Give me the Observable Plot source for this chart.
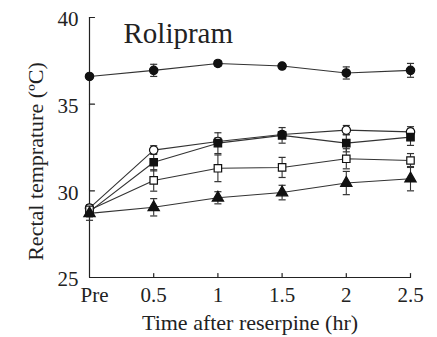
<!DOCTYPE html>
<html>
<head>
<meta charset="utf-8">
<script src="https://cdn.jsdelivr.net/npm/d3@7"></script>
<script src="https://cdn.jsdelivr.net/npm/@observablehq/plot@0.6"></script>
<style>
  html, body { margin: 0; padding: 0; background: #fff; }
</style>
</head>
<body>
<div id="chart"></div>
<script>
const times = [0, 0.5, 1, 1.5, 2, 2.5];
const xTickLabels = ["Pre", "0.5", "1", "1.5", "2", "2.5"];
const yTicks = [25, 30, 35, 40];

const filledCircle = [36.6, 36.95, 37.35, 37.2, 36.8, 36.95];
const filledCircleErr = [0.15, 0.35, 0.15, 0.1, 0.35, 0.4];
const openCircle = [29.0, 32.35, 32.85, 33.25, 33.5, 33.4];
const openCircleErr = [0.2, 0.25, 0.2, 0.15, 0.27, 0.3];
const filledSquare = [28.8, 31.65, 32.75, 33.2, 32.75, 33.1];
const filledSquareErr = [0.3, 0.5, 0.6, 0.45, 0.5, 0.48];
const openSquare = [28.9, 30.6, 31.3, 31.35, 31.85, 31.75];
const openSquareErr = [0.3, 0.62, 0.77, 0.58, 0.58, 0.4];
const triangle = [28.7, 29.05, 29.6, 29.9, 30.45, 30.7];
const triangleErr = [0.4, 0.5, 0.35, 0.42, 0.67, 0.7];

const seriesDefs = [
  {name: "filledCircle", values: filledCircle, err: filledCircleErr, symbol: "circle", fill: "#111"},
  {name: "openCircle", values: openCircle, err: openCircleErr, symbol: "circle", fill: "#fff"},
  {name: "filledSquare", values: filledSquare, err: filledSquareErr, symbol: "square", fill: "#111"},
  {name: "openSquare", values: openSquare, err: openSquareErr, symbol: "square", fill: "#fff"},
  {name: "triangle", values: triangle, err: triangleErr, symbol: "triangle", fill: "#111"}
];

const rows = seriesDefs.flatMap(s => times.map((t, i) => ({
  series: s.name, x: t, y: s.values[i], lo: s.values[i] - s.err[i], hi: s.values[i] + s.err[i],
  symbol: s.symbol, fill: s.fill
})));

const xLabelRows = times.map((t, i) => ({x: t, label: xTickLabels[i]}));

const ink = "#222";
const capSymbol = {draw(ctx, size) { const w = Math.sqrt(size) / 2; ctx.moveTo(-w, 0); ctx.lineTo(w, 0); }};
const vTick = {draw(ctx, l) { ctx.moveTo(0, 0); ctx.lineTo(0, -l); }};

const font = "'Liberation Serif', 'DejaVu Serif', serif";

const chart = Plot.plot({
  width: 437,
  height: 337,
  marginLeft: 89,
  marginRight: 27,
  marginTop: 17,
  marginBottom: 60,
  style: {fontFamily: font, color: ink, background: "#fff"},
  x: {domain: [0, 2.5], axis: null},
  y: {domain: [25, 40], axis: null},
  marks: [
    // axis lines
    Plot.ruleX([0], {y1: 25, y2: 40, stroke: ink, strokeWidth: 1.2}),
    Plot.ruleY([25], {x1: 0, x2: 2.5, stroke: ink, strokeWidth: 1.2}),
    // inward tick marks
    Plot.vector(yTicks, {x: 0, y: d => d, length: 5, rotate: 90, anchor: "start", shape: vTick, stroke: ink, strokeWidth: 1.2}),
    Plot.vector(times.slice(1), {x: d => d, y: 25, length: 4, rotate: 0, anchor: "start", shape: vTick, stroke: ink, strokeWidth: 1.2}),
    // tick labels
    Plot.text(yTicks, {x: 0, y: d => d, text: d => String(d), textAnchor: "end", dx: -11, dy: 2, fontSize: 21, fill: ink, fontFamily: font}),
    Plot.text(xLabelRows.slice(0, 1), {x: "x", y: 25, text: "label", dx: 5, dy: 18, fontSize: 21, fill: ink, fontFamily: font}),
    Plot.text(xLabelRows.slice(1), {x: "x", y: 25, text: "label", dy: 18, fontSize: 21, fill: ink, fontFamily: font}),
    // axis titles
    Plot.text(["Time after reserpine (hr)"], {frameAnchor: "bottom", lineAnchor: "middle", textAnchor: "middle", dy: 45, fontSize: 22, fill: ink, fontFamily: font}),
    Plot.text(["Rectal temprature (ºC)"], {frameAnchor: "left", lineAnchor: "middle", textAnchor: "middle", dx: -54, dy: 14, rotate: -90, fontSize: 22, fill: ink, fontFamily: font}),
    // panel title
    Plot.text(["Rolipram"], {frameAnchor: "top-left", lineAnchor: "middle", textAnchor: "start", dx: 34, dy: 16, fontSize: 29, fill: ink, fontFamily: font}),
    // lines
    Plot.line(rows, {x: "x", y: "y", z: "series", stroke: "#333", strokeWidth: 1.1}),
    // error bars
    Plot.ruleX(rows, {x: "x", y1: "lo", y2: "hi", stroke: "#333", strokeWidth: 1.1}),
    Plot.dot(rows, {x: "x", y: "lo", symbol: capSymbol, r: 4, stroke: "#333", strokeWidth: 1.2}),
    Plot.dot(rows, {x: "x", y: "hi", symbol: capSymbol, r: 4, stroke: "#333", strokeWidth: 1.2}),
    // markers
    Plot.dot(rows, {x: "x", y: "y", symbol: d => d.symbol, fill: d => d.fill, stroke: "#111", strokeWidth: 1.2, r: 4.2})
  ]
});

document.getElementById("chart").appendChild(chart);
</script>
</body>
</html>
